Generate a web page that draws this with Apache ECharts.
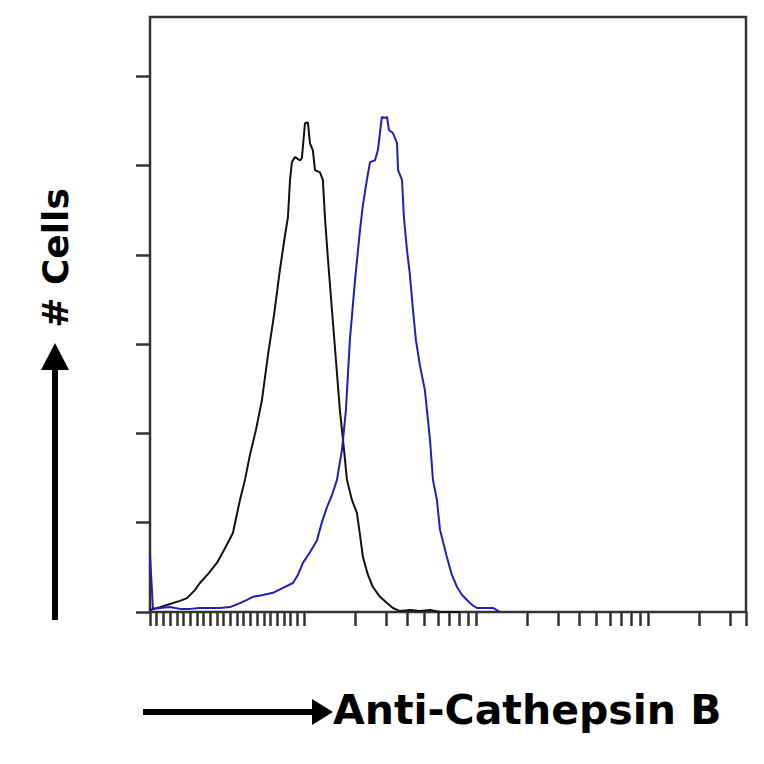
<!DOCTYPE html>
<html>
<head>
<meta charset="utf-8">
<script src="https://cdn.jsdelivr.net/npm/echarts@6/dist/echarts.min.js"></script>
<style>html,body{margin:0;padding:0;background:#fff}#chart{width:764px;height:764px}</style>
</head>
<body>
<div id="chart"></div>
<script>
// x values: log10 fluorescence intensity (decades); y values: cell counts
var controlX = [-0.895,-0.837,-0.779,-0.721,-0.680,-0.634,-0.605,-0.558,-0.506,-0.459,-0.413,-0.372,-0.343,-0.314,-0.279,-0.244,-0.209,-0.174,-0.140,-0.110,-0.093,-0.081,-0.070,-0.052,-0.023,-0.012,0.006,0.023,0.035,0.052,0.064,0.093,0.110,0.122,0.140,0.163,0.186,0.209,0.233,0.250,0.279,0.308,0.326,0.343,0.372,0.401,0.442,0.483,0.517,0.558,0.616,0.674,0.733,0.791,0.907];
var controlCounts = [0.45,1.1,1.8,2.5,3.1,4.9,6.5,8.5,11.0,14.3,17.7,25.1,29.6,35.2,40.8,47.5,57.6,66.5,76.6,84.4,88.5,96.8,100.8,101.9,101.2,101.7,109.5,109.7,105.0,103.4,99.0,98.5,96.8,88.5,78.8,67.6,56.4,45.2,36.3,29.6,25.1,22.2,17.2,12.3,8.3,5.6,3.4,2.0,0.9,0.2,0.45,0.2,0.45,0,0];
var stainedX = [-0.895,-0.878,-0.837,-0.779,-0.721,-0.663,-0.605,-0.547,-0.488,-0.430,-0.372,-0.331,-0.297,-0.238,-0.180,-0.122,-0.064,-0.035,-0.006,0.035,0.076,0.105,0.134,0.163,0.192,0.221,0.244,0.267,0.297,0.326,0.343,0.366,0.384,0.413,0.430,0.453,0.471,0.483,0.494,0.517,0.541,0.547,0.570,0.581,0.599,0.616,0.634,0.651,0.674,0.703,0.733,0.750,0.773,0.791,0.831,0.860,0.890,0.919,0.948,0.977,1.006,1.052,1.099,1.140];
var stainedCounts = [12.8,0.7,0.9,1.1,0.7,0.7,0.9,0.9,0.9,1.1,2.0,2.7,3.4,3.8,4.3,5.4,6.5,8.3,11.0,13.4,16.1,20.2,23.5,26.2,29.6,36.3,45.2,60.9,74.4,85.6,91.2,96.8,100.8,101.2,103.5,110.9,110.7,110.9,108.0,107.3,105.1,99.0,96.8,88.5,81.1,75.5,67.6,60.9,55.3,49.7,38.5,29.6,25.1,18.4,12.3,8.3,5.6,3.8,2.7,1.6,0.9,0.9,0.9,0];
var yTicks = [0,20,40,60,80,100,120];
var xMin = -0.895, xMax = 2.57;
var decades = [0,1,2];
var axisTitleX = 'Anti-Cathepsin B';
var axisTitleY = '# Cells';

// tick positions: uniform ticks in the low (linear-like) region, log ticks in each decade
var xTicks = [];
for (var i = 0; i <= 23; i++) xTicks.push(xMin + i * (0 - xMin) / 23);
decades.forEach(function (d) {
  for (var m = 2; m <= 10; m++) {
    var v = d + Math.log10(m);
    if (v < xMax) xTicks.push(+v.toFixed(4));
  }
});
xTicks.push(xMax);

function pairs(xs, ys) { return xs.map(function (x, i) { return [x, ys[i]]; }); }

var chart = echarts.init(document.getElementById('chart'), null, {renderer: 'svg'});
var tickStyle = {color: '#333', width: 2.5};
chart.setOption({
  animation: false,
  backgroundColor: '#fff',
  grid: {left: 150, right: 18, top: 17, bottom: 152, show: true, borderColor: '#333', borderWidth: 2.5, backgroundColor: 'transparent'},
  xAxis: {
    type: 'value', min: xMin, max: xMax,
    axisLine: {show: false, onZero: false},
    splitLine: {show: false},
    axisLabel: {show: false},
    axisTick: {show: true, length: 14, lineStyle: tickStyle, customValues: xTicks}
  },
  yAxis: {
    type: 'value', min: 0, max: 133.3,
    axisLine: {show: false, onZero: false},
    splitLine: {show: false},
    axisLabel: {show: false},
    axisTick: {show: true, length: 14, lineStyle: tickStyle, customValues: yTicks}
  },
  series: [
    {type: 'line', data: pairs(controlX, controlCounts), symbol: 'none', lineStyle: {color: '#111', width: 2}, z: 3},
    {type: 'line', data: pairs(stainedX, stainedCounts), symbol: 'none', lineStyle: {color: '#2020b8', width: 2}, z: 4}
  ],
  graphic: [
    {type: 'line', shape: {x1: 143, y1: 712, x2: 318, y2: 712}, style: {stroke: '#000', lineWidth: 6}},
    {type: 'polygon', shape: {points: [[312, 699], [333, 712], [312, 725]]}, style: {fill: '#000'}},
    {type: 'text', left: 333, top: 689, style: {text: axisTitleX, font: 'bold 41px "DejaVu Sans"', fill: '#000'}},
    {type: 'line', shape: {x1: 55, y1: 620, x2: 55, y2: 365}, style: {stroke: '#000', lineWidth: 6}},
    {type: 'polygon', shape: {points: [[41, 370], [55, 343], [69, 370]]}, style: {fill: '#000'}},
    {type: 'text', x: 55, y: 258, rotation: Math.PI / 2, style: {text: axisTitleY, font: 'bold 36px "DejaVu Sans"', fill: '#000', align: 'center', verticalAlign: 'middle'}}
  ]
});
</script>
</body>
</html>
